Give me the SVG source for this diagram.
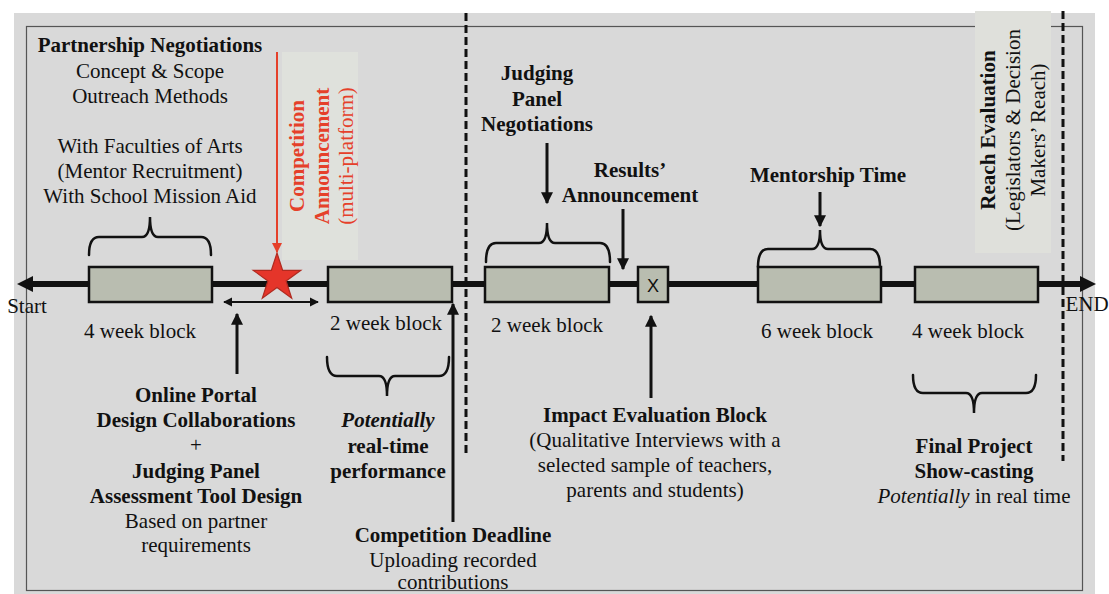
<svg xmlns="http://www.w3.org/2000/svg" width="1109" height="594" viewBox="0 0 1109 594">
<defs>
<style>
text{font-family:'Liberation Serif','DejaVu Serif',serif;font-size:21px;fill:#111;text-anchor:middle}
.b{font-weight:bold}
.i{font-style:italic}
.red{fill:#e5402a}
.blk{fill:#b9bdb0;stroke:#111;stroke-width:2.5}
.brace{fill:none;stroke:#111;stroke-width:2.5;stroke-linecap:round}
.arr{stroke:#111;stroke-width:3;fill:none}
.dash{stroke:#111;stroke-width:3;stroke-dasharray:8,4;fill:none}
</style>
<marker id="ah" viewBox="0 0 10 10" refX="9" refY="5" markerWidth="4" markerHeight="4" orient="auto"><path d="M0,0 L10,5 L0,10 z" fill="#111"/></marker>
<marker id="ahs" viewBox="0 0 10 10" refX="9" refY="5" markerWidth="4.5" markerHeight="5" orient="auto-start-reverse"><path d="M0,0 L10,5 L0,10 z" fill="#111"/></marker>
<marker id="ahr" viewBox="0 0 10 10" refX="9" refY="5" markerWidth="5" markerHeight="5" orient="auto"><path d="M0,0 L10,5 L0,10 z" fill="#e5402a"/></marker>
</defs>
<rect x="0" y="0" width="1109" height="594" fill="#fff"/>
<rect x="14" y="13" width="1081" height="581" fill="#d9d9d9"/>
<rect x="26.5" y="26.5" width="1056" height="564" fill="none" stroke="#555" stroke-width="1.2"/>

<g id="reach-evaluation" font-family="'Liberation Serif', 'DejaVu Serif', serif">
<rect x="975" y="11" width="76" height="242" fill="#dfe0db"/>
<text class="b" transform="translate(995,130) rotate(-90)">Reach Evaluation</text>
<text transform="translate(1020,130) rotate(-90)">(Legislators &amp; Decision</text>
<text transform="translate(1045,130) rotate(-90)">Makers’ Reach)</text>
</g>

<g id="competition-announcement">
<rect x="282" y="52" width="76" height="208" fill="#dfe1dc"/>
<text class="b red" transform="translate(304,156) rotate(-90)">Competition</text>
<text class="b red" transform="translate(329,156) rotate(-90)">Announcement</text>
<text class="red" transform="translate(353,156) rotate(-90)">(multi-platform)</text>
</g>

<g id="dividers">
<line class="dash" x1="466" y1="13" x2="466" y2="455"/>
<line class="dash" x1="1063" y1="11" x2="1063" y2="461"/>
</g>

<g id="timeline">
<line x1="30" y1="284" x2="1082" y2="284" stroke="#111" stroke-width="6"/>
<path d="M17,284 L33,276 L33,292 z" fill="#111"/>
<path d="M1096,284 L1080,276 L1080,292 z" fill="#111"/>
<text x="27" y="313">Start</text>
<text x="1087" y="311">END</text>
</g>

<g id="block-4wk-a">
<rect class="blk" x="89" y="267" width="123" height="35"/>
<text x="140" y="338">4 week block</text>
</g>
<g id="block-2wk-a">
<rect class="blk" x="328" y="267" width="124" height="35"/>
<text x="386" y="330">2 week block</text>
</g>
<g id="block-2wk-b">
<rect class="blk" x="485" y="267" width="124" height="35"/>
<text x="547" y="332">2 week block</text>
</g>
<g id="block-x">
<rect class="blk" x="638" y="267" width="30" height="35"/>
<text x="653" y="292" style="font-family:'Liberation Sans',Arial,sans-serif;font-size:18px">X</text>
</g>
<g id="block-6wk">
<rect class="blk" x="758" y="267" width="123" height="35"/>
<text x="817" y="338">6 week block</text>
</g>
<g id="block-4wk-b">
<rect class="blk" x="915" y="267" width="123" height="35"/>
<text x="968" y="338">4 week block</text>
</g>

<g id="star">
<polygon points="277,253 282.6,270.3 300.8,270.3 286.1,281 291.7,298.3 277,287.6 262.3,298.3 267.9,281 253.2,270.3 271.4,270.3" fill="#e5352a" stroke="#b02a20" stroke-width="1.2"/>
</g>

<g id="partnership-negotiations">
<text class="b" x="150" y="52">Partnership Negotiations</text>
<text x="150" y="78">Concept &amp; Scope</text>
<text x="150" y="103">Outreach Methods</text>
<text x="150" y="153">With Faculties of Arts</text>
<text x="150" y="178">(Mentor Recruitment)</text>
<text x="150" y="203">With School Mission Aid</text>
</g>

<g id="judging-panel-negotiations">
<text class="b" x="537" y="80">Judging</text>
<text class="b" x="537" y="106">Panel</text>
<text class="b" x="537" y="131">Negotiations</text>
</g>

<g id="results-announcement">
<text class="b" x="630" y="177">Results’</text>
<text class="b" x="630" y="202">Announcement</text>
</g>

<g id="mentorship-time">
<text class="b" x="828" y="182">Mentorship Time</text>
</g>

<g id="online-portal">
<text class="b" x="196" y="402">Online Portal</text>
<text class="b" x="196" y="427">Design Collaborations</text>
<text x="196" y="452">+</text>
<text class="b" x="196" y="478">Judging Panel</text>
<text class="b" x="196" y="503">Assessment Tool Design</text>
<text x="196" y="528">Based on partner</text>
<text x="196" y="552">requirements</text>
</g>

<g id="potentially-performance">
<text class="b i" x="388" y="427">Potentially</text>
<text class="b" x="388" y="453">real-time</text>
<text class="b" x="388" y="478">performance</text>
</g>

<g id="competition-deadline">
<text class="b" x="453" y="542">Competition Deadline</text>
<text x="453" y="567">Uploading recorded</text>
<text x="453" y="589">contributions</text>
</g>

<g id="impact-evaluation">
<text class="b" x="655" y="422">Impact Evaluation Block</text>
<text x="655" y="447">(Qualitative Interviews with a</text>
<text x="655" y="472">selected sample of teachers,</text>
<text x="655" y="497">parents and students)</text>
</g>

<g id="final-project">
<text class="b" x="974" y="453">Final Project</text>
<text class="b" x="974" y="478">Show-casting</text>
<text x="974" y="503"><tspan class="i">Potentially</tspan> in real time</text>
</g>

<g id="connectors">
<path class="brace" d="M89,255 Q89,237 99,237 L142,237 Q150,237 150,217 Q150,237 158,237 L201,237 Q211,237 211,255"/>
<path class="brace" d="M486,262 Q486,243 496,243 L539,243 Q547,243 547,223 Q547,243 555,243 L600,243 Q610,243 610,262"/>
<path class="brace" d="M758,267 Q758,249 768,249 L812,249 Q820,249 820,230 Q820,249 828,249 L870,249 Q880,249 880,267"/>
<path class="brace" d="M327,357 Q327,376 337,376 L379,376 Q387,376 387,396 Q387,376 395,376 L439,376 Q449,376 449,357"/>
<path class="brace" d="M913,375 Q913,393 923,393 L966,393 Q974,393 974,413 Q974,393 982,393 L1026,393 Q1036,393 1036,375"/>
<line class="arr" x1="547" y1="143" x2="547" y2="203" marker-end="url(#ah)"/>
<line class="arr" x1="623" y1="209" x2="623" y2="269" marker-end="url(#ah)"/>
<line class="arr" x1="820" y1="192" x2="820" y2="226" marker-end="url(#ah)"/>
<line x1="277" y1="52" x2="277" y2="252" stroke="#e5402a" stroke-width="2" marker-end="url(#ahr)"/>
<line x1="224" y1="302" x2="318" y2="302" stroke="#111" stroke-width="2" marker-start="url(#ahs)" marker-end="url(#ahs)"/>
<line class="arr" x1="237" y1="374" x2="237" y2="314" marker-end="url(#ah)"/>
<line class="arr" x1="453" y1="522" x2="453" y2="304" marker-end="url(#ah)"/>
<line class="arr" x1="651" y1="398" x2="651" y2="316" marker-end="url(#ah)"/>
</g>
</svg>
